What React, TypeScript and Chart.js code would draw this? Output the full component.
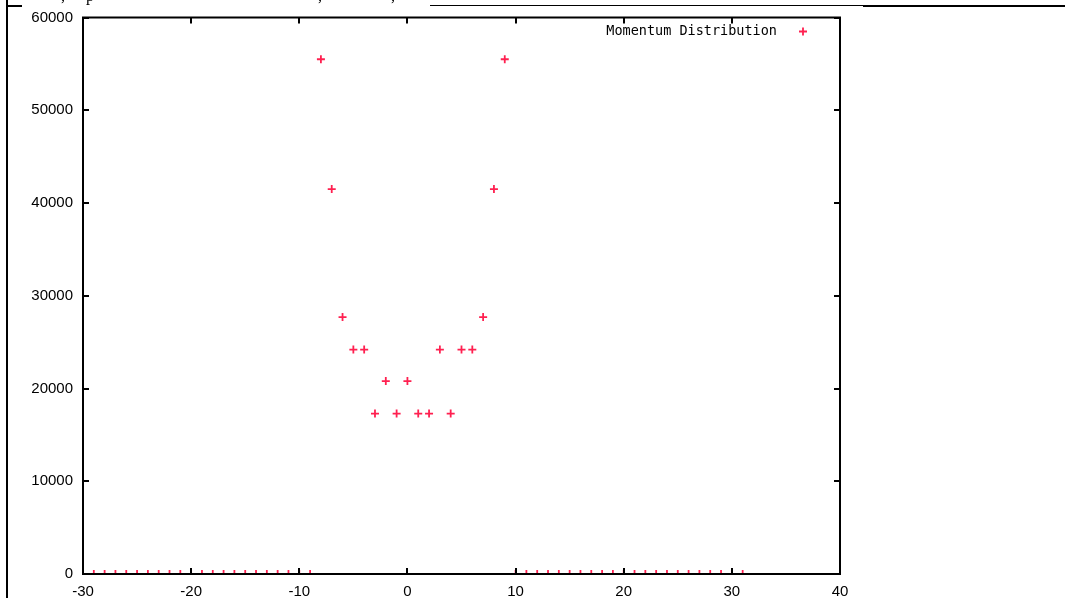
import React, { useEffect, useRef } from "react";
import { Chart, registerables } from "chart.js";

Chart.register(...registerables);

// Momentum values (x) and counts (y)
const momentum: number[] = [
  -29, -28, -27, -26, -25, -24, -23, -22, -21, -20, -19, -18, -17, -16, -15, -14, -13, -12, -11, -10, -9,
  -8, -7, -6, -5, -4, -3, -2, -1, 0, 1, 2, 3, 4, 5, 6, 7, 8, 9,
  10, 11, 12, 13, 14, 15, 16, 17, 18, 19, 20, 21, 22, 23, 24, 25, 26, 27, 28, 29, 30, 31,
];
const counts: number[] = [
  0, 0, 0, 0, 0, 0, 0, 0, 0, 0, 0, 0, 0, 0, 0, 0, 0, 0, 0, 0, 0,
  55500, 41500, 27700, 24200, 24200, 17300, 20800, 17300, 20800, 17300, 17300, 24200, 17300, 24200, 24200, 27700, 41500, 55500,
  0, 0, 0, 0, 0, 0, 0, 0, 0, 0, 0, 0, 0, 0, 0, 0, 0, 0, 0, 0, 0, 0,
];
const seriesLabel = "Momentum Distribution";
const xMin = -30;
const xMax = 40;
const xStep = 10;
const yMin = 0;
const yMax = 60000;
const yStep = 10000;

const POINT_COLOR = "#ff2050";

const framePlugin = {
  id: "gnuFrame",
  afterDatasetsDraw(chart: any) {
    const { ctx, chartArea } = chart;
    const { left, right, top, bottom } = chartArea;
    const xs = chart.scales.x;
    const ys = chart.scales.y;
    ctx.save();
    ctx.strokeStyle = "#000";
    ctx.lineWidth = 2;
    ctx.strokeRect(left, top, right - left, bottom - top);
    const tl = 6;
    ctx.beginPath();
    for (let v = xMin; v <= xMax; v += xStep) {
      const px = Math.round(xs.getPixelForValue(v));
      ctx.moveTo(px, bottom);
      ctx.lineTo(px, bottom - tl);
      ctx.moveTo(px, top);
      ctx.lineTo(px, top + tl);
    }
    for (let v = yMin; v <= yMax; v += yStep) {
      const py = Math.round(ys.getPixelForValue(v));
      ctx.moveTo(left, py);
      ctx.lineTo(left + tl, py);
      ctx.moveTo(right, py);
      ctx.lineTo(right - tl, py);
    }
    ctx.stroke();
    ctx.restore();
  },
  afterDraw(chart: any) {
    const { ctx, chartArea } = chart;
    ctx.save();
    ctx.font = "13.5px 'DejaVu Sans Mono'";
    ctx.fillStyle = "#000";
    ctx.textAlign = "right";
    ctx.textBaseline = "middle";
    const ly = chartArea.top + 14;
    ctx.fillText(seriesLabel, 777, ly);
    const cx = 803;
    ctx.strokeStyle = POINT_COLOR;
    ctx.lineWidth = 1.8;
    ctx.beginPath();
    ctx.moveTo(cx - 4, ly);
    ctx.lineTo(cx + 4, ly);
    ctx.moveTo(cx, ly - 4);
    ctx.lineTo(cx, ly + 4);
    ctx.stroke();
    ctx.restore();
  },
};

export default function App() {
  const ref = useRef<HTMLCanvasElement | null>(null);

  useEffect(() => {
    if (!ref.current) return;
    const chart = new Chart(ref.current, {
      type: "scatter",
      data: {
        datasets: [
          {
            label: seriesLabel,
            data: momentum.map((x, i) => ({ x, y: counts[i] })),
            pointStyle: "cross",
            pointRadius: 4,
            pointBorderWidth: 1.8,
            borderColor: POINT_COLOR,
            backgroundColor: POINT_COLOR,
            showLine: false,
          } as any,
        ],
      },
      options: {
        animation: false,
        responsive: false,
        devicePixelRatio: 1,
        layout: { padding: { left: 0, right: 225, top: 15, bottom: 0 } },
        plugins: { legend: { display: false }, tooltip: { enabled: false } },
        scales: {
          x: {
            type: "linear",
            min: xMin,
            max: xMax,
            grid: { display: false, drawTicks: false },
            border: { display: false },
            ticks: {
              stepSize: xStep,
              color: "#000",
              font: { family: "'Liberation Sans'", size: 15, lineHeight: 1 },
              padding: 10,
              maxRotation: 0,
              callback: (v: any) => String(v),
            },
            afterFit: (s: any) => {
              s.height = 24;
            },
          },
          y: {
            type: "linear",
            min: yMin,
            max: yMax,
            grid: { display: false, drawTicks: false },
            border: { display: false },
            ticks: {
              stepSize: yStep,
              color: "#000",
              font: { family: "'Liberation Sans'", size: 15, lineHeight: 1 },
              padding: 10,
              callback: (v: any) => String(v),
            },
            afterFit: (s: any) => {
              s.width = 83;
            },
          },
        },
      },
      plugins: [framePlugin],
    });
    return () => chart.destroy();
  }, []);

  const frag = (left: number, ch: string) => (
    <span
      style={{
        position: "absolute",
        left,
        top: -12,
        fontFamily: "'Liberation Serif', serif",
        fontSize: 16,
        lineHeight: "16px",
        color: "#000",
      }}
    >
      {ch}
    </span>
  );

  return (
    <div
      style={{
        position: "fixed",
        left: 0,
        top: 0,
        width: 1065,
        height: 598,
        background: "#fff",
        overflow: "hidden",
      }}
    >
      <canvas
        ref={ref}
        width={1065}
        height={598}
        style={{ position: "absolute", left: 0, top: 0, width: 1065, height: 598 }}
      />
      <div style={{ position: "absolute", left: 6, top: 0, width: 2, height: 598, background: "#000" }} />
      <div style={{ position: "absolute", left: 8, top: 5, width: 14, height: 1.5, background: "#000" }} />
      <div style={{ position: "absolute", left: 430, top: 5, width: 433, height: 1, background: "#000" }} />
      <div style={{ position: "absolute", left: 863, top: 5, width: 202, height: 2, background: "#000" }} />
      {frag(61, ",")}
      {frag(86, "p")}
      {frag(318, ",")}
      {frag(391, ",")}
    </div>
  );
}
